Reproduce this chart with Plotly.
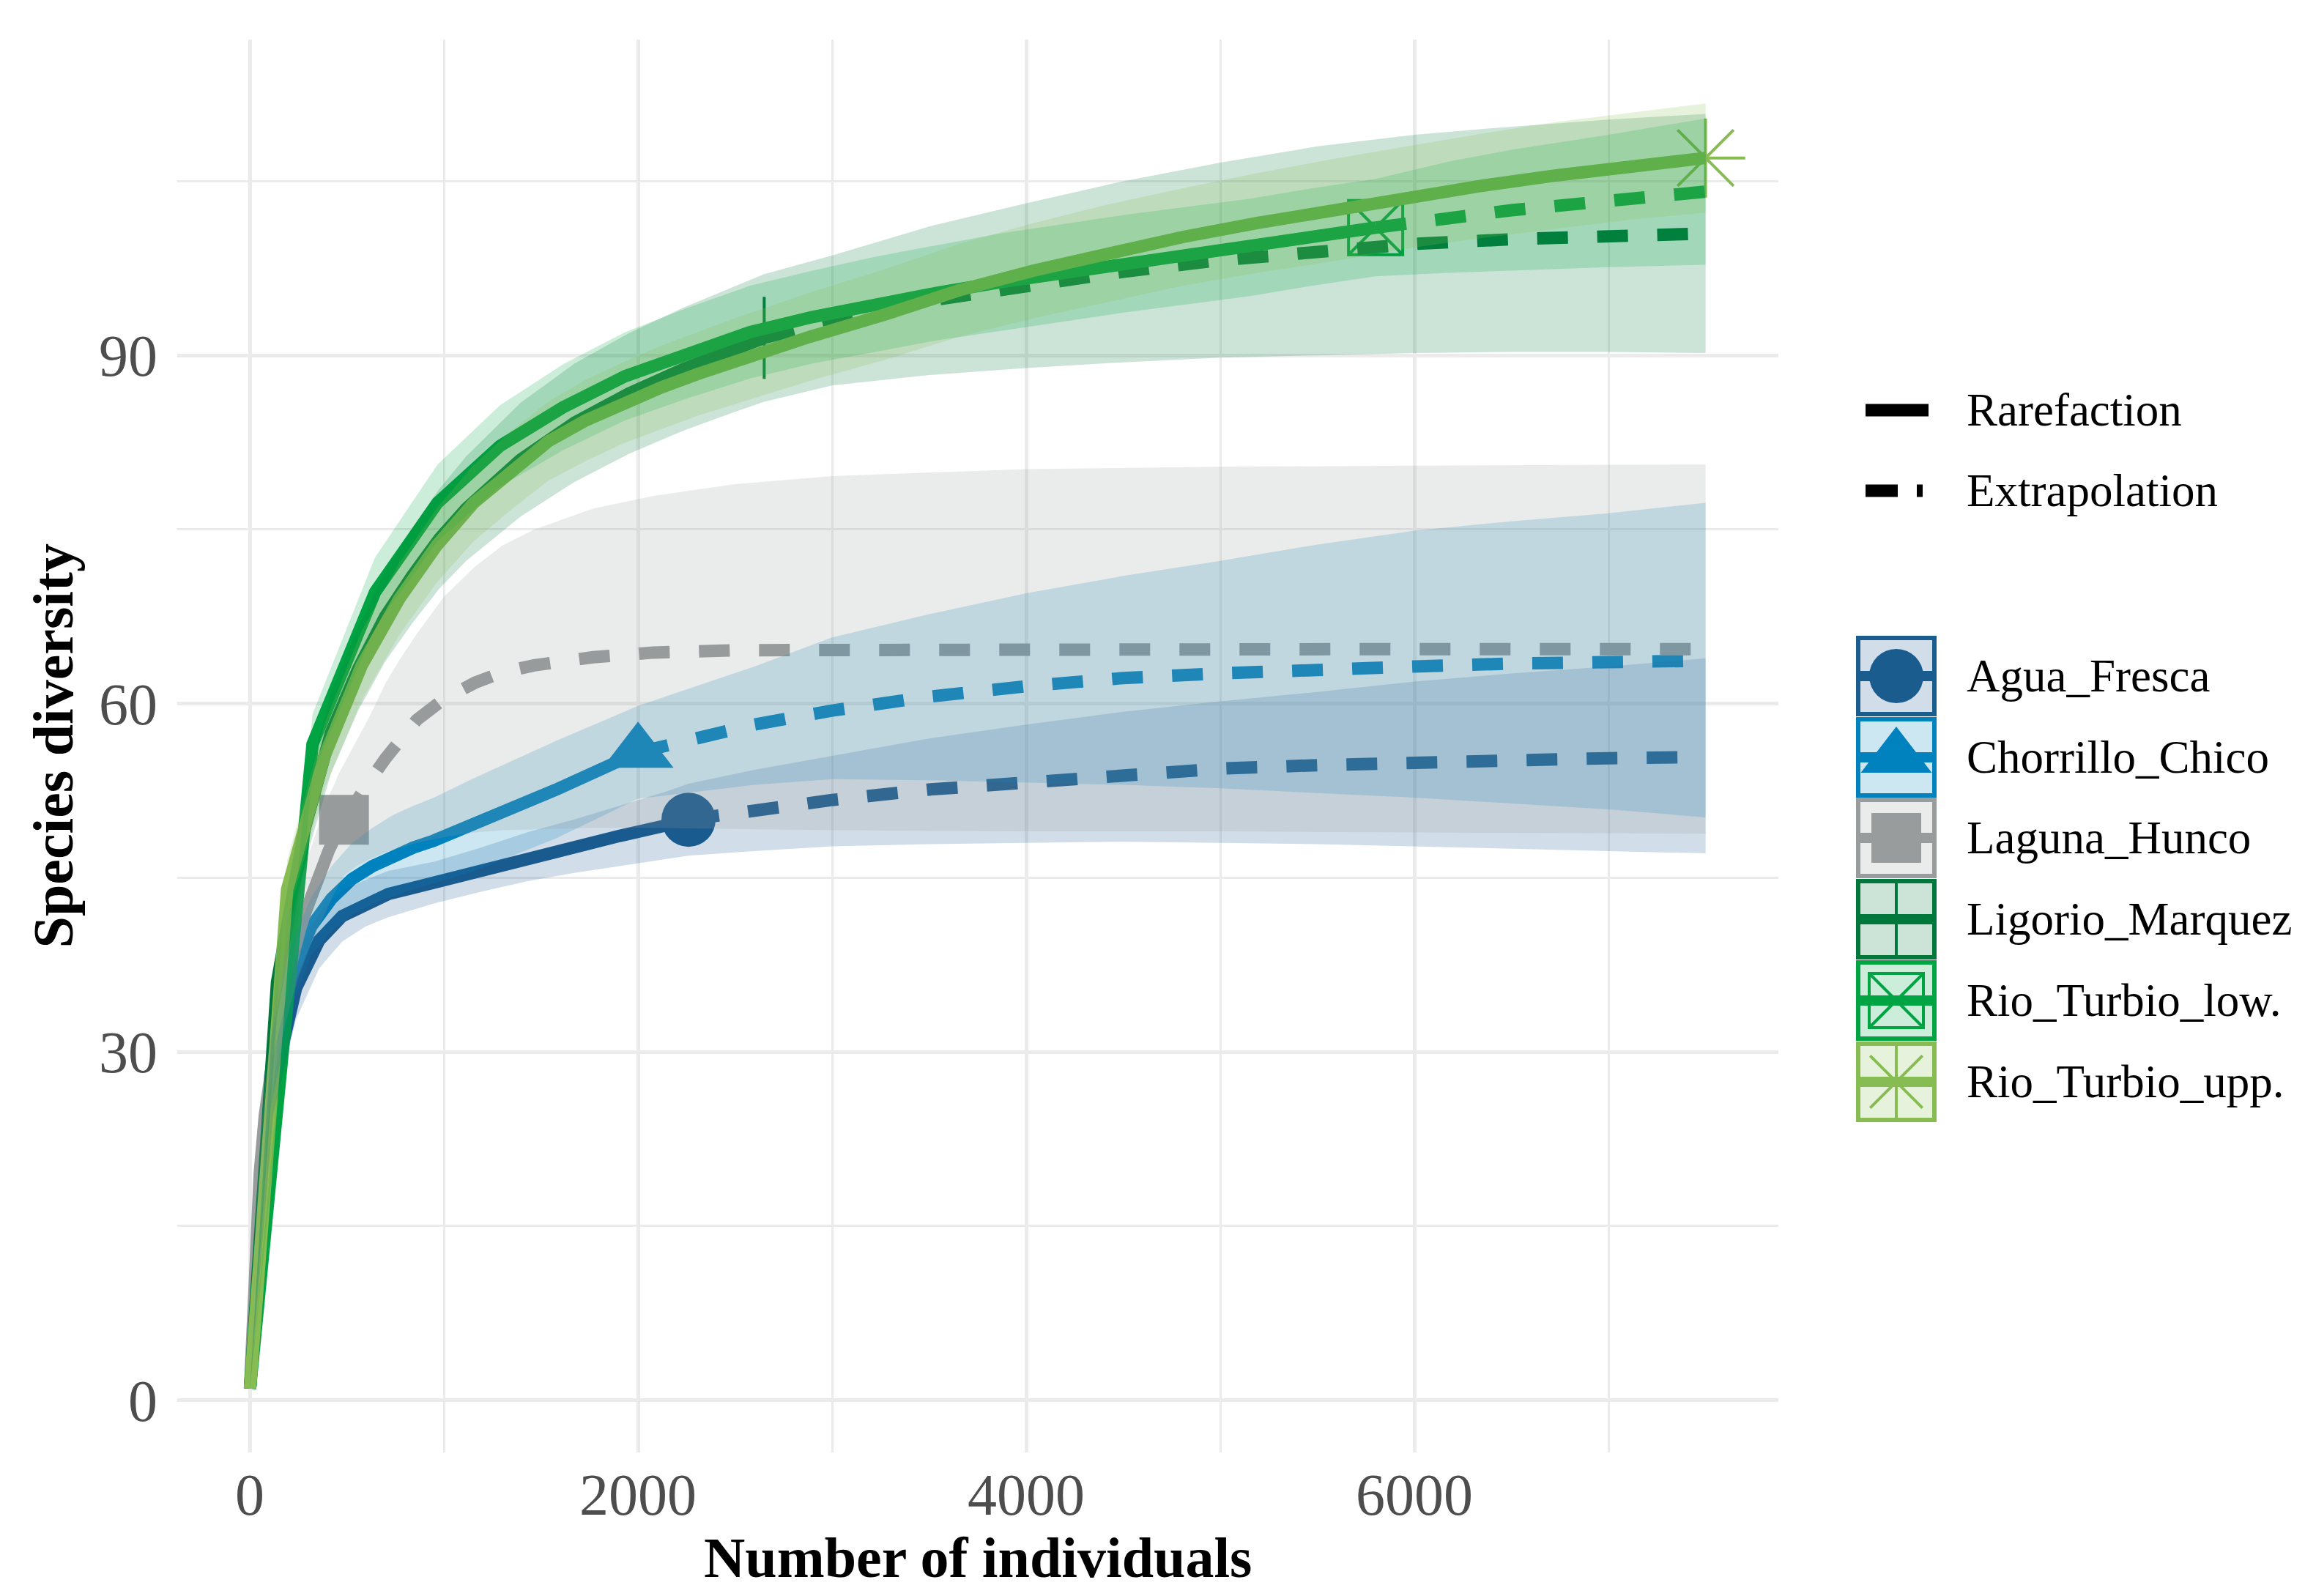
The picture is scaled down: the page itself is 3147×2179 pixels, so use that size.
import plotly.graph_objects as go

# iNEXT-style rarefaction / extrapolation of species diversity per site
SITES = ["Agua_Fresca", "Chorrillo_Chico", "Laguna_Hunco",
         "Ligorio_Marquez", "Rio_Turbio_low.", "Rio_Turbio_upp."]

# Agua_Fresca
AF_RARE_X = [1, 119, 238, 357, 476, 595, 714, 833, 952, 1190, 1428, 1666, 1904, 2142, 2260]
AF_RARE_S = [1, 27.0, 35.5, 39.6, 41.7, 42.8, 43.6, 44.1, 44.6, 45.7, 46.8, 47.7, 48.6, 49.5, 50.0]
AF_EXT_X = [2600, 3000, 3500, 4000, 4500, 5000, 5500, 6000, 6500, 7000, 7500]
AF_EXT_S = [50.9, 51.7, 52.6, 53.2, 53.9, 54.4, 54.7, 54.95, 55.1, 55.3, 55.4]
AF_LO = [1, 24.5, 32.8, 37.2, 39.5, 40.8, 41.6, 42.2, 42.8, 43.8, 44.7, 45.4, 46.0, 46.6, 46.9,
         47.3, 47.7, 47.9, 48.0, 48.1, 48.0, 47.9, 47.7, 47.5, 47.3, 47.1]
AF_HI = [1, 29.5, 38.2, 42.0, 43.9, 44.8, 45.6, 46.0, 46.4, 47.6, 48.9, 50.0, 51.2, 52.4, 53.1,
         54.3, 55.5, 57.0, 58.2, 59.3, 60.2, 61.0, 61.9, 62.6, 63.2, 63.9]

# Chorrillo_Chico
CC_RARE_X = [1, 106, 211, 316, 421, 527, 632, 737, 842, 948, 1158, 1369, 1579, 1790, 2000]
CC_RARE_S = [1, 28, 36.5, 40.8, 43.2, 44.9, 46.0, 46.9, 47.6, 48.2, 49.6, 51.1, 52.6, 54.2, 55.8]
CC_EXT_X = [2300, 2600, 3000, 3500, 4000, 4500, 5000, 5500, 6000, 6500, 7000, 7500]
CC_EXT_S = [57.0, 58.2, 59.4, 60.6, 61.5, 62.2, 62.6, 63.0, 63.2, 63.45, 63.6, 63.7]
CC_LO = [1, 25, 33.7, 38.3, 40.4, 41.8, 42.7, 43.4, 44.0, 44.5, 45.6, 47.0, 48.4, 50.1, 51.8,
         52.4, 53.0, 53.5, 53.4, 53.2, 53.0, 52.7, 52.3, 51.9, 51.4, 50.9, 50.2]
CC_HI = [1, 31, 39.3, 43.3, 46.0, 48.0, 49.3, 50.4, 51.2, 51.9, 53.6, 55.2, 56.8, 58.3, 59.8,
         61.5, 63.2, 65.7, 67.7, 69.5, 71.0, 72.3, 73.7, 74.9, 75.7, 76.4, 77.3]

# Laguna_Hunco
LH_RARE_X = [1, 26, 51, 77, 102, 128, 153, 179, 204, 230, 255, 281, 306, 332, 357, 383, 408, 434, 459, 485]
LH_RARE_S = [1, 12, 19.5, 24.5, 28, 31, 33.3, 35.3, 37.2, 38.9, 40.4, 41.8, 43, 44.2, 45.3, 46.4, 47.4, 48.3, 49.2, 50]
LH_EXT_X = [550, 620, 700, 780, 860, 1000, 1160, 1300, 1465, 1770, 2080, 2500, 3000, 4000, 5000, 6000, 7500]
LH_EXT_S = [51.8, 53.4, 55.3, 57.1, 58.6, 60.4, 61.8, 62.7, 63.3, 64.0, 64.4, 64.6, 64.65, 64.7, 64.7, 64.7, 64.7]
LH_LO = [1, 10, 17, 22, 25.3, 28, 30.2, 32.1, 33.8, 35.3, 36.6, 37.8, 38.9, 39.9, 40.9, 41.8, 42.7, 43.6, 44.4, 45.2,
         46.0, 46.6, 47.2, 47.6, 48.0, 48.5, 48.9, 49.1, 49.2, 49.3, 49.3, 49.2, 49.1, 49.0, 49.0, 48.9, 48.8]
LH_HI = [1, 14, 22, 27, 30.7, 34, 36.4, 38.5, 40.6, 42.5, 44.2, 45.8, 47.1, 48.5, 49.7, 51, 52.1, 53, 54, 54.8,
         56.8, 59.0, 61.8, 64.0, 66.0, 69.2, 71.8, 73.6, 75.0, 76.8, 77.9, 78.9, 79.6, 80.2, 80.4, 80.5, 80.6]

# Ligorio_Marquez
LM_RARE_X = [1, 140, 279, 418, 558, 697, 836, 976, 1115, 1394, 1673, 1952, 2231, 2510, 2650]
LM_RARE_S = [1, 36, 49, 57.5, 63, 67.5, 71, 74.2, 76.8, 81.0, 84.2, 86.7, 88.8, 90.6, 91.5]
LM_EXT_X = [3000, 3500, 4000, 4500, 5000, 5500, 6000, 6500, 7000, 7500]
LM_EXT_S = [93.0, 94.7, 96.0, 97.2, 98.2, 99.0, 99.6, 100.0, 100.3, 100.5]
LM_LO = [1, 33, 46, 54, 59.4, 63.6, 66.9, 69.9, 72.3, 76.1, 79.1, 81.5, 83.5, 85.2, 86.0,
         87.4, 88.3, 88.9, 89.4, 89.8, 90.0, 90.2, 90.3, 90.3, 90.2]
LM_HI = [1, 39, 52, 61, 66.6, 71.4, 75.1, 78.5, 81.3, 85.9, 89.3, 91.9, 94.1, 96.0, 97.0,
         98.6, 101.1, 103.1, 105.0, 106.6, 108.0, 109.0, 109.7, 110.3, 110.8]

# Rio_Turbio_low.
RL_RARE_X = [1, 323, 645, 967, 1289, 1611, 1933, 2255, 2577, 2899, 3222, 3544, 3866, 4188, 4510, 4832, 5154, 5476, 5800]
RL_RARE_S = [1, 56.5, 69.6, 77.3, 82.2, 85.5, 88.2, 90.2, 92.0, 93.3, 94.4, 95.4, 96.3, 97.1, 97.9, 98.6, 99.3, 100.2, 101.0]
RL_EXT_X = [6178, 6500, 7000, 7500]
RL_EXT_S = [101.9, 102.5, 103.3, 104.1]
RL_LO = [1, 53.9, 66.6, 74.0, 78.7, 81.8, 84.4, 86.3, 88.0, 89.3, 90.3, 91.3, 92.1, 92.9, 93.7, 94.4, 95.1, 96.0, 96.8,
         97.1, 97.3, 97.6, 97.8]
RL_HI = [1, 59.1, 72.6, 80.6, 85.7, 89.2, 92.0, 94.1, 96.0, 97.3, 98.5, 99.5, 100.5, 101.3, 102.1, 102.8, 103.5, 104.4, 105.2,
         106.7, 107.7, 109.0, 110.4]

# Rio_Turbio_upp. (sampled up to the endpoint, so no extrapolation)
RU_RARE_X = [1, 192, 385, 577, 769, 962, 1154, 1346, 1538, 1731, 1923, 2115, 2308, 2500, 2885, 3269,
             3654, 4038, 4423, 4808, 5192, 5577, 5962, 6346, 6731, 7115, 7500]
RU_RARE_S = [1, 44, 55.5, 63.3, 69.0, 73.6, 77.3, 80.1, 82.6, 84.4, 85.9, 87.2, 88.4, 89.5, 91.6, 93.5,
             95.6, 97.3, 98.8, 100.2, 101.4, 102.5, 103.6, 104.6, 105.5, 106.3, 107.0]
RU_EXT_X = []
RU_EXT_S = []
RU_LO = [1, 41.5, 52.7, 60.3, 65.9, 70.4, 74.0, 76.7, 79.2, 80.9, 82.4, 83.6, 84.8, 85.8, 87.8, 89.6,
         91.6, 93.2, 94.6, 96.0, 97.1, 98.1, 99.2, 100.1, 100.9, 101.7, 102.3]
RU_HI = [1, 46.5, 58.3, 66.3, 72.1, 76.8, 80.6, 83.5, 86.0, 87.9, 89.4, 90.8, 92.0, 93.2, 95.4, 97.4,
         99.6, 101.4, 103.0, 104.4, 105.7, 106.9, 108.0, 109.1, 110.1, 110.9, 111.7]

RARE_X = [AF_RARE_X, CC_RARE_X, LH_RARE_X, LM_RARE_X, RL_RARE_X, RU_RARE_X]
RARE_S = [AF_RARE_S, CC_RARE_S, LH_RARE_S, LM_RARE_S, RL_RARE_S, RU_RARE_S]
EXT_X = [AF_EXT_X, CC_EXT_X, LH_EXT_X, LM_EXT_X, RL_EXT_X, RU_EXT_X]
EXT_S = [AF_EXT_S, CC_EXT_S, LH_EXT_S, LM_EXT_S, RL_EXT_S, RU_EXT_S]
CI_LO = [AF_LO, CC_LO, LH_LO, LM_LO, RL_LO, RU_LO]
CI_HI = [AF_HI, CC_HI, LH_HI, LM_HI, RL_HI, RU_HI]

# styles
COLORS = ["#1B5C8F", "#0082BF", "#989C9D", "#00773B", "#00A443", "#86BC52"]
SYMBOLS = ["circle", "triangle-up", "square", "cross-thin", "square-x-open", "asterisk-open"]
MSIZE = [74, 84, 68, 80, 74, 90]
LEG_MSIZE = [74, 84, 68, 74, 74, 84]
FONT = "Liberation Serif"
LW = 17

W, H = 3147, 2179
L, R, T, B = 234, 20, 46, 204
IW, IH = W - L - R, H - T - B
MAIN_RIGHT = 2420
LEG_LEFT = 0.76


def rgba(hexcol, a):
    h = hexcol.lstrip("#")
    return "rgba(%d,%d,%d,%.2f)" % (int(h[0:2], 16), int(h[2:4], 16), int(h[4:6], 16), a)


def marker_style(i, size):
    m = dict(symbol=SYMBOLS[i], size=size, color=COLORS[i])
    if SYMBOLS[i].endswith("-open") or SYMBOLS[i] == "cross-thin":
        m["line"] = dict(color=COLORS[i], width=4)
    else:
        m["line"] = dict(width=0)
    return m


fig = go.Figure()

# points at the observed sample
for i, site in enumerate(SITES):
    fig.add_trace(go.Scatter(x=[RARE_X[i][-1]], y=[RARE_S[i][-1]], mode="markers",
                             marker=marker_style(i, MSIZE[i]), showlegend=False, hoverinfo="skip"))

# rarefaction (solid) and extrapolation (dashed)
for i, site in enumerate(SITES):
    fig.add_trace(go.Scatter(x=RARE_X[i], y=RARE_S[i], mode="lines",
                             line=dict(color=COLORS[i], width=LW), showlegend=False, name=site))
    if EXT_X[i]:
        fig.add_trace(go.Scatter(x=[RARE_X[i][-1]] + EXT_X[i], y=[RARE_S[i][-1]] + EXT_S[i],
                                 mode="lines", showlegend=False, name=site,
                                 line=dict(color=COLORS[i], width=LW, dash="42px,40px")))

# confidence ribbons (drawn on top, alpha 0.2)
for i, site in enumerate(SITES):
    cx = RARE_X[i] + EXT_X[i]
    fig.add_trace(go.Scatter(x=cx + cx[::-1], y=CI_HI[i] + CI_LO[i][::-1], fill="toself",
                             fillcolor=rgba(COLORS[i], 0.2), mode="lines", line=dict(width=0),
                             showlegend=False, hoverinfo="skip"))

# ---- hand-made legend on an overlay axis measured in page pixels ----
TXT_X = 2675
LEG_FONT = dict(family=FONT, size=63, color="black")
shapes = []
annotations = []

# linetype keys
shapes.append(dict(type="line", xref="x2", yref="y2", x0=2539, x1=2625, y0=552, y1=552,
                   line=dict(color="black", width=LW)))
annotations.append(dict(x=TXT_X, y=552, xref="x2", yref="y2", text="Rarefaction", showarrow=False,
                        xanchor="left", yanchor="middle", font=LEG_FONT))
for x0, x1 in [(2539, 2583), (2609, 2617)]:
    shapes.append(dict(type="line", xref="x2", yref="y2", x0=x0, x1=x1, y0=662, y1=662,
                       line=dict(color="black", width=LW)))
annotations.append(dict(x=TXT_X, y=662, xref="x2", yref="y2", text="Extrapolation", showarrow=False,
                        xanchor="left", yanchor="middle", font=LEG_FONT))

# site keys
BOX_CX, BOX = 2581, 104
leg_y = [915, 1026, 1136, 1247, 1358, 1469]
for i, site in enumerate(SITES):
    yc = leg_y[i]
    shapes.append(dict(type="rect", xref="x2", yref="y2", layer="below",
                       x0=BOX_CX - BOX / 2, x1=BOX_CX + BOX / 2, y0=yc - BOX / 2, y1=yc + BOX / 2,
                       fillcolor=rgba(COLORS[i], 0.2), line=dict(color=COLORS[i], width=6)))
    shapes.append(dict(type="line", xref="x2", yref="y2", layer="below",
                       x0=BOX_CX - BOX / 2 + 3, x1=BOX_CX + BOX / 2 - 3, y0=yc, y1=yc,
                       line=dict(color=COLORS[i], width=14)))
    fig.add_trace(go.Scatter(x=[BOX_CX], y=[yc], xaxis="x2", yaxis="y2", mode="markers",
                             marker=marker_style(i, LEG_MSIZE[i]), showlegend=False, hoverinfo="skip"))
    annotations.append(dict(x=TXT_X, y=yc, xref="x2", yref="y2", text=site, showarrow=False,
                            xanchor="left", yanchor="middle", font=LEG_FONT))

# axis titles
main_frac = (MAIN_RIGHT - L) / IW
annotations.append(dict(x=main_frac / 2, y=(T + IH - 2118) / IH, xref="paper", yref="paper",
                        text="<b>Number of individuals</b>", showarrow=False, xanchor="center", yanchor="middle",
                        font=dict(family=FONT, size=78, color="black")))
annotations.append(dict(x=(64 - L) / IW, y=0.5, xref="paper", yref="paper", textangle=-90,
                        text="<b>Species diversity</b>", showarrow=False, xanchor="center", yanchor="middle",
                        font=dict(family=FONT, size=78, color="black")))

grid = "#EBEBEB"
fig.update_layout(
    width=W, height=H, margin=dict(l=L, r=R, t=T, b=B),
    plot_bgcolor="white", paper_bgcolor="white", showlegend=False,
    shapes=shapes, annotations=annotations,
    xaxis=dict(domain=[0, main_frac], range=[-374, 7875], tick0=0, dtick=2000,
               showgrid=True, gridcolor=grid, gridwidth=5, zeroline=False, showline=False, ticks="",
               minor=dict(dtick=1000, tick0=0, showgrid=True, gridcolor=grid, gridwidth=3),
               tickfont=dict(family=FONT, size=80, color="#4D4D4D"), ticklabelstandoff=4),
    yaxis=dict(domain=[0, 1], range=[-4.5, 117.2], tick0=0, dtick=30,
               showgrid=True, gridcolor=grid, gridwidth=5, zeroline=False, showline=False, ticks="",
               minor=dict(dtick=15, tick0=0, showgrid=True, gridcolor=grid, gridwidth=3),
               tickfont=dict(family=FONT, size=80, color="#4D4D4D"), ticklabelstandoff=26),
    xaxis2=dict(domain=[LEG_LEFT, 1], range=[L + LEG_LEFT * IW, W - R], visible=False,
                anchor="y2", fixedrange=True),
    yaxis2=dict(domain=[0, 1], range=[T + IH, T], visible=False, anchor="x2", fixedrange=True),
)

fig.write_html("out.html")
